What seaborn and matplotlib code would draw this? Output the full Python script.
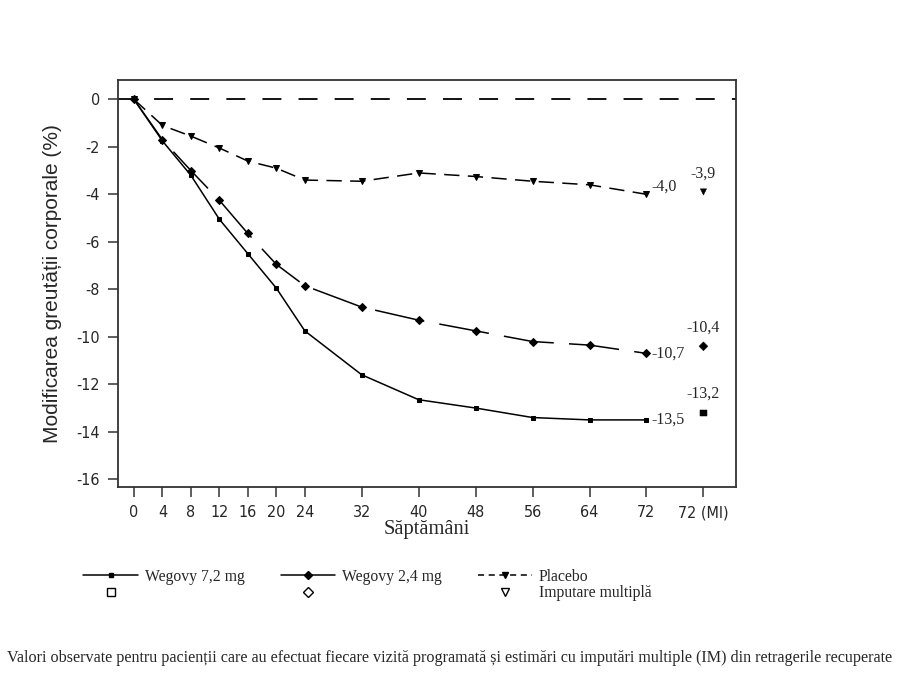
import matplotlib
matplotlib.use('Agg')
import matplotlib.pyplot as plt
from matplotlib.lines import Line2D
import seaborn as sns
import pandas as pd

# weeks on x axis, 80 is the "72 (MI)" column
weeks = [0, 4, 8, 12, 16, 20, 24, 32, 40, 48, 56, 64, 72]
tick_weeks = [0, 4, 8, 12, 16, 20, 24, 32, 40, 48, 56, 64, 72, 80]
tick_labels = ['0', '4', '8', '12', '16', '20', '24', '32', '40', '48', '56', '64', '72', '72 (MI)']
mi_week = 80

wegovy_72 = [0, -1.75, -3.2, -5.05, -6.5, -7.95, -9.75, -11.6, -12.65, -13.0, -13.4, -13.5, -13.5]
wegovy_24 = [0, -1.7, -3.0, -4.25, -5.65, -6.95, -7.85, -8.75, -9.3, -9.75, -10.2, -10.35, -10.7]
placebo = [0, -1.1, -1.55, -2.05, -2.6, -2.9, -3.4, -3.45, -3.1, -3.25, -3.45, -3.6, -4.0]

mi_values = [-13.2, -10.4, -3.9]
end_labels = ['-13,5', '-10,7', '-4,0']
mi_labels = ['-13,2', '-10,4', '-3,9']

series_names = ['Wegovy 7,2 mg', 'Wegovy 2,4 mg', 'Placebo']

sns.set_theme(style='white')
plt.rcParams['font.family'] = ['Liberation Sans', 'DejaVu Sans']

serif = ['Liberation Serif', 'DejaVu Serif']

fig = plt.figure(figsize=(9, 6.75), dpi=100)
ax = fig.add_axes([0.131, 0.278, 0.687, 0.603])

# zero reference line
ax.axhline(0, color='black', lw=1.3, dashes=(10.5, 9.5))

styles = [
    dict(marker='s', markersize=3.5, dashes=None),
    dict(marker='D', markersize=4.3, dashes=(33, 10)),
    dict(marker='v', markersize=4.5, dashes=(10, 5.5)),
]
all_vals = [wegovy_72, wegovy_24, placebo]

for name, vals, st in zip(series_names, all_vals, styles):
    df = pd.DataFrame({'week': weeks, 'value': vals})
    sns.lineplot(data=df, x='week', y='value', ax=ax, color='black', lw=1.1,
                 marker=st['marker'], markersize=st['markersize'],
                 markeredgecolor='black', markerfacecolor='black')
    line = ax.lines[-1]
    if st['dashes'] is not None:
        line.set_dashes(st['dashes'])

mi_df = pd.DataFrame({'week': [mi_week] * 3, 'value': mi_values, 'group': series_names})
sns.scatterplot(data=mi_df, x='week', y='value', style='group',
                markers={'Wegovy 7,2 mg': 's', 'Wegovy 2,4 mg': 'D', 'Placebo': 'v'},
                color='black', s=20, edgecolor='black', ax=ax, legend=False)

# value labels
for v_end, lab_end, v_mi, lab_mi in zip([wegovy_72[-1], wegovy_24[-1], placebo[-1]],
                                        end_labels, mi_values, mi_labels):
    ax.text(weeks[-1] + 0.7, v_end, lab_end, family=serif, fontsize=11.5,
            va='center' if lab_end != '-4,0' else 'bottom', ha='left')
    ax.text(mi_week, v_mi + 0.45, lab_mi, family=serif, fontsize=11.5,
            va='bottom', ha='center')

ax.set_xlim(-2.25, 84.6)
ax.set_ylim(-16.34, 0.8)
ax.set_xticks(tick_weeks)
ax.set_xticklabels(tick_labels, family='DejaVu Sans', stretch='condensed', fontsize=11.5)
ax.set_yticks(range(0, -17, -2))
ax.set_yticklabels([str(v) for v in range(0, -17, -2)], family='DejaVu Sans',
                   stretch='condensed', fontsize=11.5)
ax.tick_params(axis='both', direction='out', length=7, width=1.1, color='#333333',
               bottom=True, left=True, pad=6)

for sp in ax.spines.values():
    sp.set_color('#333333')
    sp.set_linewidth(1.3)

ax.set_xlabel('Săptămâni', family=serif, fontsize=14.8, labelpad=0)
ax.set_ylabel('Modificarea greutății corporale (%)', fontsize=15, labelpad=10)

# legend: lines on first row, open markers for imputation on second row
handles = [
    Line2D([], [], color='black', lw=1.1, marker='s', markersize=3.5),
    Line2D([], [], color='none', marker='s', markersize=6, markerfacecolor='white', markeredgecolor='black'),
    Line2D([], [], color='black', lw=1.1, marker='D', markersize=4.3),
    Line2D([], [], color='none', marker='D', markersize=5, markerfacecolor='white', markeredgecolor='black'),
    Line2D([], [], color='black', lw=1.1, marker='v', markersize=4.5, dashes=(4, 3)),
    Line2D([], [], color='none', marker='v', markersize=6, markerfacecolor='white', markeredgecolor='black'),
]
labels = ['Wegovy 7,2 mg', ' ', 'Wegovy 2,4 mg', ' ', 'Placebo', 'Imputare multiplă']
fig.legend(handles, labels, ncol=3, loc='upper left', bbox_to_anchor=(0.084, 0.169),
           frameon=False, prop={'family': serif, 'size': 11.3}, handlelength=3.5,
           handletextpad=0.4, columnspacing=2.3, labelspacing=0.02, borderpad=0)

fig.text(0.5, 0.025, 'Valori observate pentru pacienții care au efectuat fiecare vizită programată și '
         'estimări cu imputări multiple (IM) din retragerile recuperate',
         family=serif, fontsize=11.6, ha='center', va='center')

fig.savefig('out.png', dpi=100)
